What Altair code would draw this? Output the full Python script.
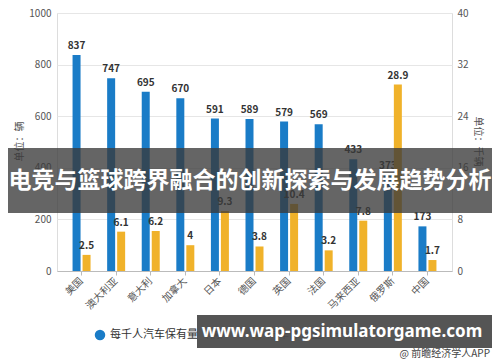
import altair as alt
import pandas as pd

countries = ["美国", "澳大利亚", "意大利", "加拿大", "日本", "德国", "英国", "法国", "马来西亚", "俄罗斯", "中国"]
cars_per_1000 = [837, 747, 695, 670, 591, 589, 579, 569, 433, 373, 173]
second_series = [2.5, 6.1, 6.2, 4, 9.3, 3.8, 10.4, 3.2, 7.8, 28.9, 1.7]
series_names = ["每千人汽车保有量（辆）", "汽车保有量（千辆）"]
left_ticks = [0, 200, 400, 600, 800, 1000]
right_ticks = [0, 8, 16, 24, 32, 40]
banner_title = "电竞与篮球跨界融合的创新探索与发展趋势分析"
banner_url = "www.wap-pgsimulatorgame.com"
source_note = "@ 前瞻经济学人APP"

df = pd.DataFrame({"country": countries, "a": cars_per_1000, "b": second_series})

BLUE = "#1a7cc7"
ORANGE = "#f0b22a"
FONT = "Noto Sans CJK SC"

x = alt.X("country:N", sort=countries, title=None,
          scale=alt.Scale(paddingInner=0.0, paddingOuter=0.21),
          axis=alt.Axis(labelAngle=-45, labelAlign="right", labelBaseline="middle",
                        labelFontSize=10, labelColor="#555", domainColor="#bbb",
                        tickColor="#bbb", tickSize=4, labelPadding=4, grid=False))

yl = alt.Y("a:Q", scale=alt.Scale(domain=[0, 1000]),
           axis=alt.Axis(values=left_ticks, format="d", title="单位：辆", titleFontSize=10,
                         titleFontWeight="normal", titleColor="#555",
                         titleX=-33, titleY=128, labelFontSize=10, labelColor="#555",
                         domain=False, ticks=False, gridColor="#e6e6e6", labelPadding=6))
yr = alt.Y("b:Q", scale=alt.Scale(domain=[0, 40]),
           axis=alt.Axis(values=right_ticks, orient="right", title="单位：千辆", titleFontSize=10,
                         titleFontWeight="normal", titleColor="#555", titleAngle=90,
                         titleX=20, titleY=128, labelFontSize=10, labelColor="#555",
                         domain=False, ticks=False, grid=False, labelPadding=5))

blue_bars = alt.Chart(df).mark_bar(width=8, xOffset=-5, color=BLUE).encode(x=x, y=yl)
blue_text = alt.Chart(df).mark_text(dy=-9, xOffset=-5, fontSize=10, fontWeight="bold",
                                    color="#333").encode(x=x, y=yl, text="a:Q")
left = alt.layer(blue_bars, blue_text)

orange_bars = alt.Chart(df).mark_bar(width=8, xOffset=5, color=ORANGE).encode(x=x, y=yr)
orange_text = alt.Chart(df).mark_text(dy=-9, xOffset=5, fontSize=10, fontWeight="bold",
                                      color="#333").encode(x=x, y=yr, text="b:Q")
right = alt.layer(orange_bars, orange_text)

one = pd.DataFrame({"k": [0]})
# manual legend (drawn as marks so that the overlay box can cover it)
leg_blue_dot = alt.Chart(one).mark_circle(size=110, color=BLUE, opacity=1).encode(
    x=alt.value(43), y=alt.value(322))
leg_blue_txt = alt.Chart(one).mark_text(text=series_names[0], fontSize=11, color="#333",
                                        align="left").encode(x=alt.value(53), y=alt.value(322))
leg_orange_dot = alt.Chart(one).mark_circle(size=110, color=ORANGE, opacity=1).encode(
    x=alt.value(200), y=alt.value(322))
leg_orange_txt = alt.Chart(one).mark_text(text=series_names[1], fontSize=11, color="#333",
                                          align="left").encode(x=alt.value(210), y=alt.value(322))
legend = alt.layer(leg_blue_dot, leg_blue_txt, leg_orange_dot, leg_orange_txt)

band = alt.Chart(one).mark_rect(color="#3a3a3a", opacity=0.78).encode(
    x=alt.value(-49), x2=alt.value(435), y=alt.value(135), y2=alt.value(200))
band_text = alt.Chart(one).mark_text(text=banner_title, font=FONT, fontSize=23,
                                     fontWeight="bold", color="white").encode(
    x=alt.value(193), y=alt.value(168))
box = alt.Chart(one).mark_rect(color="#4a4a4a", opacity=0.94).encode(
    x=alt.value(140), x2=alt.value(435), y=alt.value(302), y2=alt.value(335))
box_text = alt.Chart(one).mark_text(text=banner_url, font="Noto Sans", fontSize=17,
                                    fontWeight="bold", color="white").encode(
    x=alt.value(285), y=alt.value(319))
note = alt.Chart(one).mark_text(text=source_note, font=FONT, fontSize=10,
                                color="#444", align="right").encode(
    x=alt.value(433), y=alt.value(341))

overlay = alt.layer(legend, band, band_text, box, box_text, note)

chart = alt.layer(left, right, overlay).resolve_scale(y="independent").properties(
    width=395, height=258,
    autosize=alt.AutoSizeParams(type="none"),
    padding={"left": 49, "top": 5, "right": 40, "bottom": 90},
).configure_view(stroke=None).configure(font=FONT)

chart.save("out.html", embed_options={"renderer": "svg", "actions": False})
